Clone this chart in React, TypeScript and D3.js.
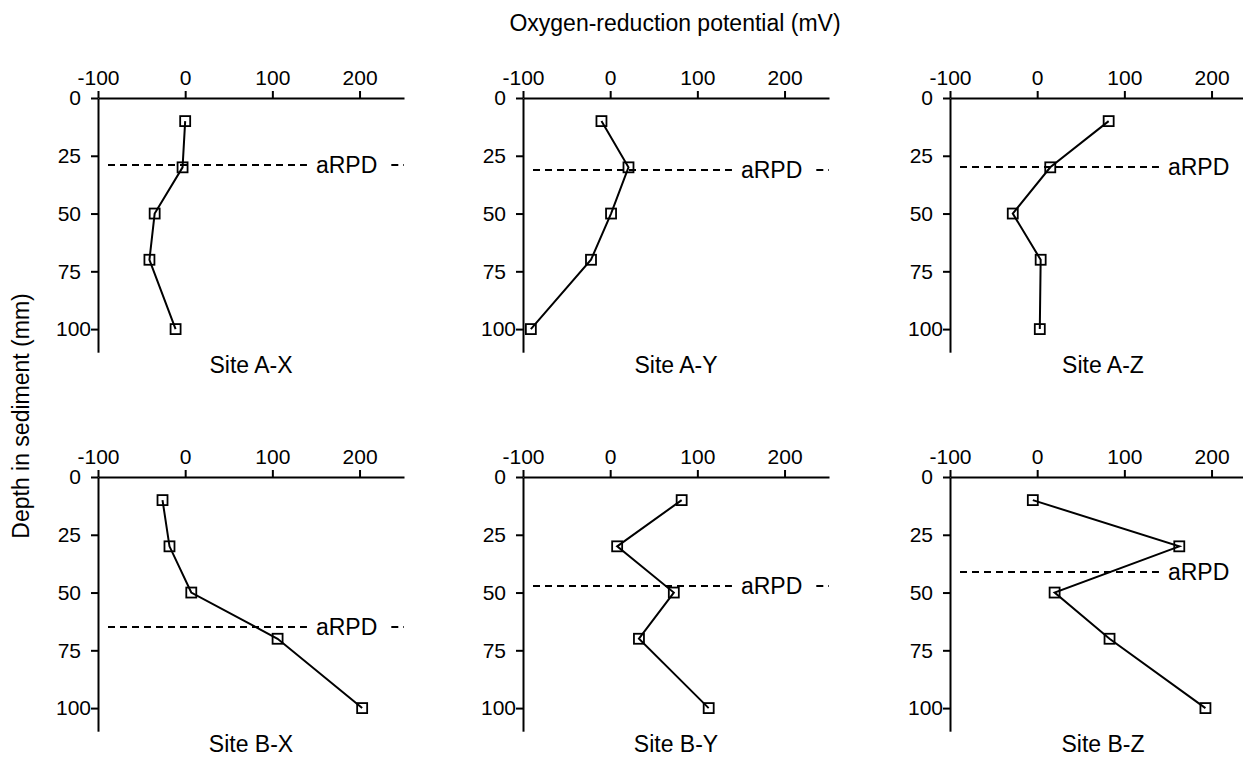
import React, { useEffect, useRef } from "react";
import * as d3 from "d3";

// depths (mm) where ORP was measured
const depths = [10, 30, 50, 70, 100];

const siteNames = ["Site A-X", "Site A-Y", "Site A-Z", "Site B-X", "Site B-Y", "Site B-Z"];

// oxygen-reduction potential (mV) per site, one value per depth
const orpAX = [0, -3, -35, -41, -11];
const orpAY = [-10, 21, 1, -22, -91];
const orpAZ = [82, 15, -28, 4, 3];
const orpBX = [-26, -18, 7, 106, 203];
const orpBY = [82, 8, 73, 33, 113];
const orpBZ = [-5, 163, 20, 83, 193];

// apparent redox potential discontinuity depth (mm)
const arpdDepths = [29, 31, 30, 65, 47, 41];

const xTicks = [-100, 0, 100, 200];
const yTicks = [0, 25, 50, 75, 100];

const FONT = "'Liberation Sans', Arial, Helvetica, sans-serif";

const App = () => {
  const ref = useRef<SVGSVGElement | null>(null);

  useEffect(() => {
    const svg = d3.select(ref.current);
    svg.selectAll("*").remove();

    const series = [orpAX, orpAY, orpAZ, orpBX, orpBY, orpBZ];
    const colX = [98, 523, 950];
    const rowY = [98, 477];

    svg
      .append("text")
      .attr("x", 675)
      .attr("y", 31)
      .attr("text-anchor", "middle")
      .attr("font-family", FONT)
      .attr("font-size", 23)
      .text("Oxygen-reduction potential (mV)");

    svg
      .append("text")
      .attr("transform", "translate(29,416) rotate(-90)")
      .attr("text-anchor", "middle")
      .attr("font-family", FONT)
      .attr("font-size", 23)
      .text("Depth in sediment (mm)");

    series.forEach((vals, i) => {
      const g = svg
        .append("g")
        .attr("transform", `translate(${colX[i % 3]},${rowY[Math.floor(i / 3)]})`);

      const x = d3.scaleLinear().domain([-100, 251]).range([0, 306]);
      const y = d3.scaleLinear().domain([0, 110]).range([0, 254.2]);

      const xAxis = g.append("g").call(
        d3
          .axisTop(x)
          .tickValues(xTicks)
          .tickFormat(d => String(d))
          .tickSize(7)
          .tickSizeOuter(0)
          .tickPadding(6)
      );
      const yAxis = g.append("g").call(
        d3
          .axisLeft(y)
          .tickValues(yTicks)
          .tickFormat(d => String(d))
          .tickSize(7)
          .tickSizeOuter(0)
          .tickPadding(10)
      );

      [xAxis, yAxis].forEach(a => {
        a.selectAll("path, line").attr("stroke", "#000").attr("stroke-width", 2);
        a.selectAll("text")
          .attr("font-family", FONT)
          .attr("font-size", 21)
          .attr("fill", "#000");
      });
      // "100" sits closer to the axis than the two-digit labels
      yAxis
        .selectAll("text")
        .filter((d: any) => d === 100)
        .attr("x", -7);

      // aRPD dashed line, broken around its label
      const ya = Math.round(y(arpdDepths[i]));
      const labelX = x(150);
      const label = g
        .append("text")
        .attr("x", labelX)
        .attr("y", ya + 8)
        .attr("font-family", FONT)
        .attr("font-size", 23)
        .text("aRPD");
      const lw = (label.node() as SVGTextElement).getComputedTextLength();
      const segs = [
        [10, labelX - 9],
        [labelX + lw + 14, x.range()[1]]
      ];
      segs.forEach(([a, b]) => {
        g.append("line")
          .attr("x1", a)
          .attr("x2", b)
          .attr("y1", ya)
          .attr("y2", ya)
          .attr("stroke", "#000")
          .attr("stroke-width", 2)
          .attr("stroke-dasharray", "7,5");
      });

      const pts = depths.map((dep, j) => ({ depth: dep, v: vals[j] }));
      const line = d3
        .line<{ depth: number; v: number }>()
        .x(d => x(d.v))
        .y(d => y(d.depth));

      g.append("path")
        .attr("d", line(pts))
        .attr("fill", "none")
        .attr("stroke", "#000")
        .attr("stroke-width", 2);

      g.selectAll(".mk")
        .data(pts)
        .enter()
        .append("rect")
        .attr("x", d => x(d.v) - 5)
        .attr("y", d => y(d.depth) - 5)
        .attr("width", 10)
        .attr("height", 10)
        .attr("fill", "none")
        .attr("stroke", "#000")
        .attr("stroke-width", 1.8);

      g.append("text")
        .attr("x", x.range()[1] / 2)
        .attr("y", 275)
        .attr("text-anchor", "middle")
        .attr("font-family", FONT)
        .attr("font-size", 23)
        .text(siteNames[i]);
    });
  }, []);

  return (
    <svg
      ref={ref}
      width={1243}
      height={758}
      style={{ position: "absolute", left: 0, top: 0, background: "#fff" }}
    />
  );
};

export default App;
